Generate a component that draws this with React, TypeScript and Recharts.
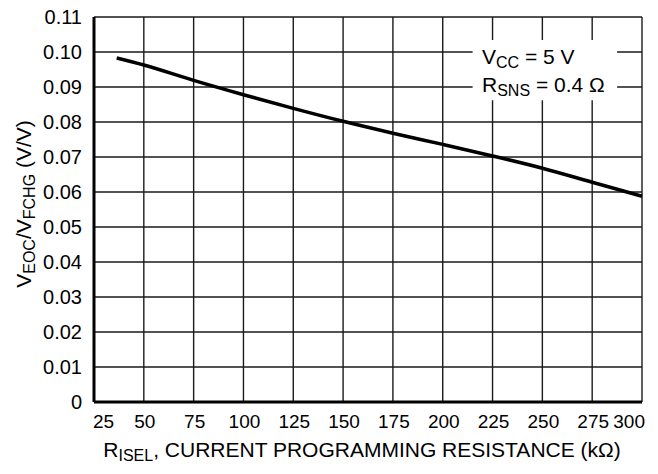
import React from "react";
import {
  LineChart,
  Line,
  XAxis,
  YAxis,
  CartesianGrid,
  ReferenceArea,
} from "recharts";

// R_ISEL (kΩ) and V_EOC/V_FCHG (V/V)
const resistance = [36.4, 50, 75, 100, 125, 150, 175, 200, 225, 250, 275, 300];
const ratio = [0.0983, 0.0963, 0.0919, 0.0878, 0.0839, 0.0802, 0.0768, 0.0736, 0.0703, 0.0668, 0.0628, 0.0588];

const xTicks = [25, 50, 75, 100, 125, 150, 175, 200, 225, 250, 275, 300];
const yTicks = [0, 0.01, 0.02, 0.03, 0.04, 0.05, 0.06, 0.07, 0.08, 0.09, 0.1, 0.11];

const data = resistance.map((r, i) => ({ r, v: ratio[i] }));

const FONT = "'Liberation Sans', Arial, Helvetica, sans-serif";
const TICK_FS = 19;
const FS = 21;
const SUB = 16;

const XTick = (props: any) => {
  const { x, y, payload } = props;
  const v = payload.value;
  let anchor: "start" | "middle" | "end" = "middle";
  let dx = 1;
  if (v === 25) {
    anchor = "start";
    dx = -1;
  } else if (v === 300) {
    anchor = "end";
    dx = 3;
  }
  return (
    <text x={x + dx} y={y + 26} textAnchor={anchor} fontFamily={FONT} fontSize={TICK_FS} fill="#000">
      {v}
    </text>
  );
};

const YTick = (props: any) => {
  const { x, y, payload } = props;
  const v = payload.value;
  const label = v === 0 ? "0" : v.toFixed(2);
  return (
    <text x={x - 12} y={y + 7} textAnchor="end" fontFamily={FONT} fontSize={20} fill="#000">
      {label}
    </text>
  );
};

export default function App() {
  return (
    <div style={{ position: "absolute", left: 0, top: 0, width: 658, height: 474, background: "#fff" }}>
      <LineChart width={658} height={474} data={data} margin={{ top: 17, right: 16, bottom: 0, left: 0 }}>
        <CartesianGrid stroke="#1a1a1a" strokeWidth={1.4} />
        <ReferenceArea x1={215} x2={287.5} y1={0.0862} y2={0.1034} fill="#fff" fillOpacity={1} stroke="none" />
        <XAxis
          type="number"
          dataKey="r"
          domain={[25, 300]}
          ticks={xTicks}
          interval={0}
          height={72}
          tickSize={0}
          tickMargin={0}
          tickLine={false}
          axisLine={{ stroke: "#000", strokeWidth: 3 }}
          tick={(p: any) => <XTick {...p} />}
        />
        <YAxis
          type="number"
          domain={[0, 0.11]}
          ticks={yTicks}
          interval={0}
          width={94}
          tickSize={0}
          tickMargin={0}
          tickLine={false}
          axisLine={{ stroke: "#000", strokeWidth: 3 }}
          tick={(p: any) => <YTick {...p} />}
        />
        <Line
          dataKey="v"
          type="monotone"
          stroke="#000"
          strokeWidth={3.5}
          dot={false}
          isAnimationActive={false}
        />
      </LineChart>
      <svg
        width={658}
        height={474}
        style={{ position: "absolute", left: 0, top: 0, pointerEvents: "none" }}
        fontFamily={FONT}
        fontSize={FS}
        fill="#000"
      >
        <text x={482} y={64}>
          V<tspan dy={4} fontSize={SUB}>CC</tspan>
          <tspan dy={-4}> = 5 V</tspan>
        </text>
        <text x={482} y={92}>
          R<tspan dy={4} fontSize={SUB}>SNS</tspan>
          <tspan dy={-4}> = 0.4 Ω</tspan>
        </text>
        <text x={362} y={457} textAnchor="middle">
          R<tspan dy={4} fontSize={SUB}>ISEL</tspan>
          <tspan dy={-4}>, CURRENT PROGRAMMING RESISTANCE (kΩ)</tspan>
        </text>
        <text x={31} y={204} textAnchor="middle" transform="rotate(-90, 31, 204)">
          V<tspan dy={4} fontSize={SUB}>EOC</tspan>
          <tspan dy={-4}>/V</tspan>
          <tspan dy={4} fontSize={SUB}>FCHG</tspan>
          <tspan dy={-4}> (V/V)</tspan>
        </text>
      </svg>
    </div>
  );
}
